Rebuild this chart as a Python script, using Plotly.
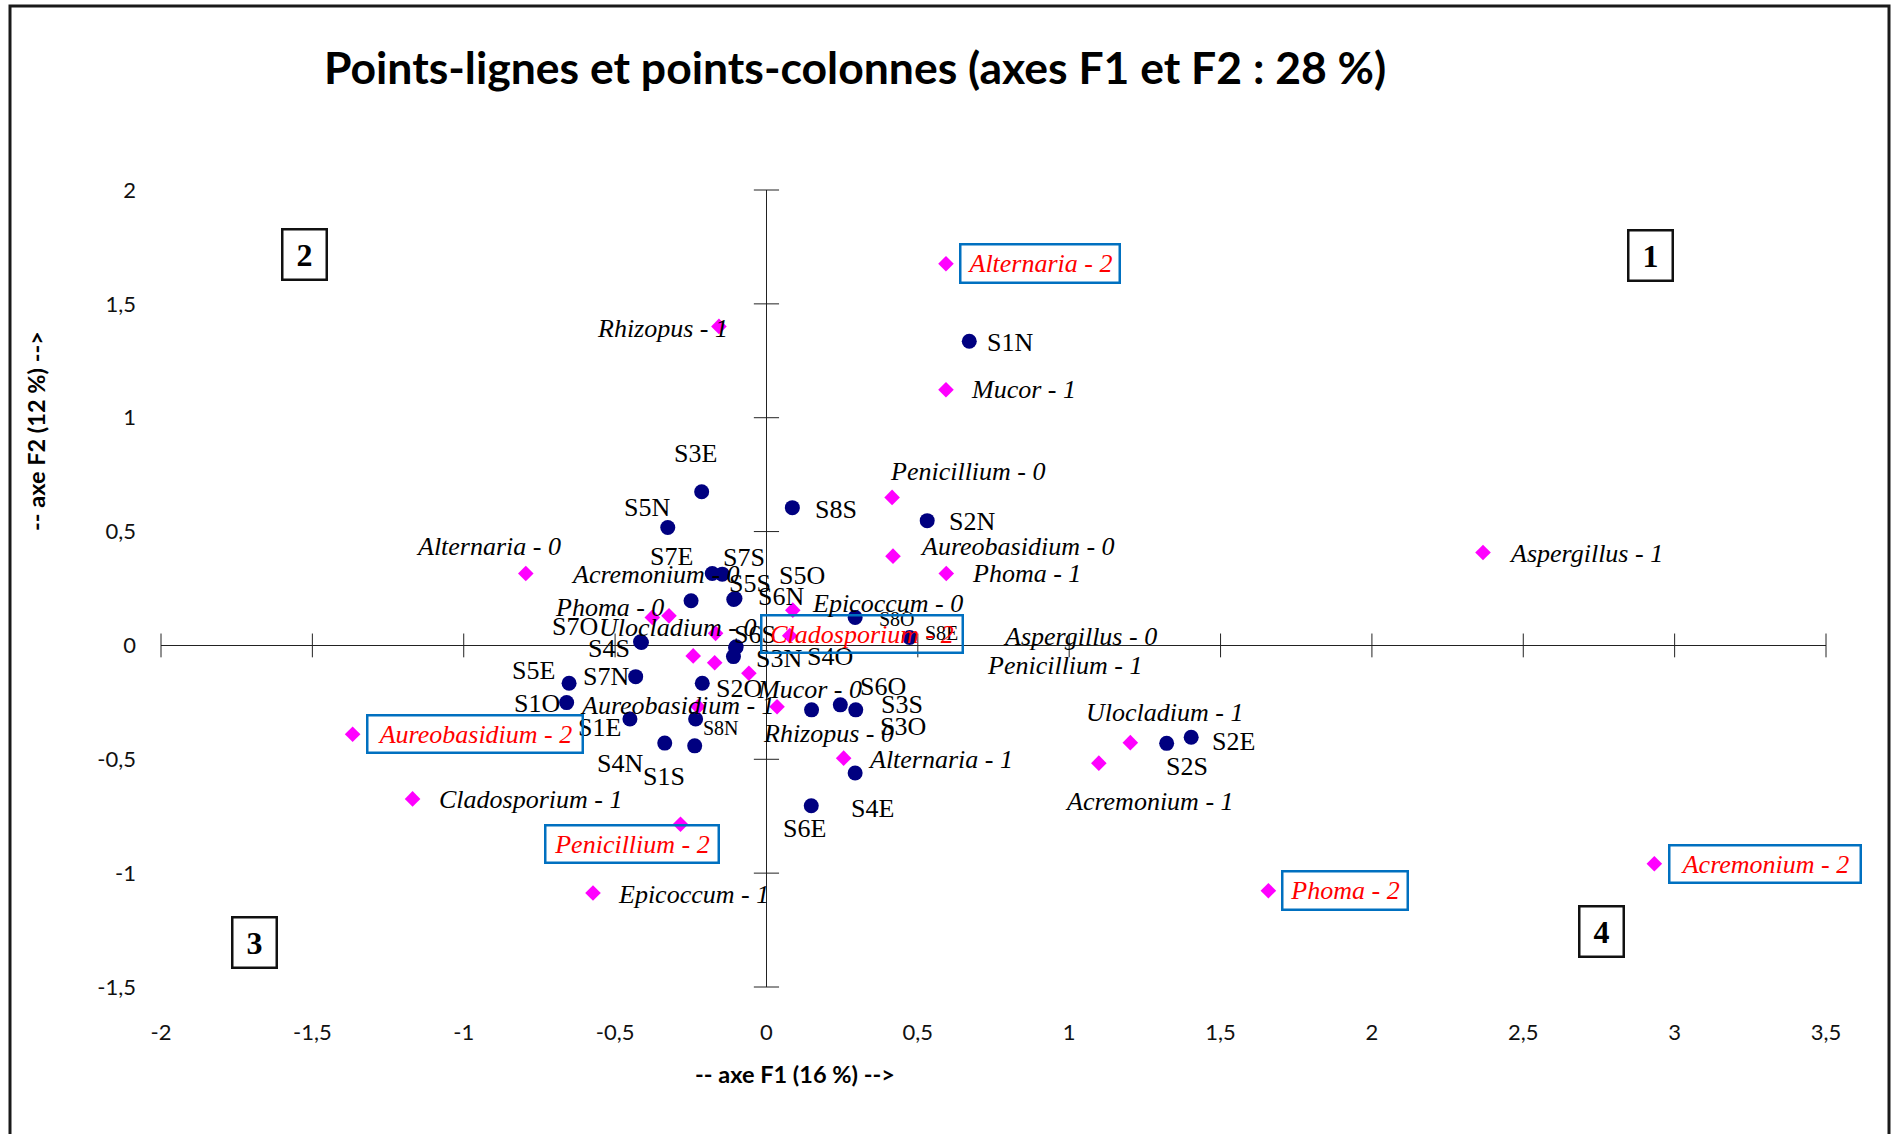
import plotly.graph_objects as go

# ---------------- data ----------------
site_names = ["S1N", "S1E", "S1S", "S1O", "S2N", "S2E", "S2S", "S2O",
              "S3N", "S3E", "S3S", "S3O", "S4N", "S4E", "S4S", "S4O",
              "S5N", "S5E", "S5S", "S5O", "S6N", "S6E", "S6S", "S6O",
              "S7N", "S7E", "S7S", "S7O", "S8N", "S8E", "S8S", "S8O"]
site_f1 = [0.670, -0.451, -0.237, -0.660, 0.531, 1.403, 1.322, -0.212,
           -0.109, -0.214, 0.295, 0.149, -0.336, 0.293, -0.413, -0.102,
           -0.326, -0.652, -0.249, -0.104, -0.108, 0.148, -0.100, 0.244,
           -0.432, -0.179, -0.146, -0.416, -0.234, 0.473, 0.0855, 0.293]
site_f2 = [1.336, -0.323, -0.441, -0.251, 0.548, -0.403, -0.430, -0.166,
           -0.049, 0.675, -0.283, -0.283, -0.429, -0.560, 0.013, -0.010,
           0.518, -0.166, 0.196, 0.206, 0.202, -0.704, -0.006, -0.261,
           -0.137, 0.316, 0.313, 0.016, -0.323, 0.035, 0.605, 0.123]

fungi_names = ["Alternaria - 0", "Alternaria - 1", "Alternaria - 2",
               "Acremonium - 0", "Acremonium - 1", "Acremonium - 2",
               "Aureobasidium - 0", "Aureobasidium - 1", "Aureobasidium - 2",
               "Aspergillus - 0", "Aspergillus - 1",
               "Cladosporium - 1", "Cladosporium - 2",
               "Epicoccum - 0", "Epicoccum - 1",
               "Mucor - 0", "Mucor - 1",
               "Penicillium - 0", "Penicillium - 1", "Penicillium - 2",
               "Phoma - 0", "Phoma - 1", "Phoma - 2",
               "Rhizopus - 0", "Rhizopus - 1",
               "Ulocladium - 0", "Ulocladium - 1"]
fungi_f1 = [-0.795, 0.255, 0.593,
            -0.322, 1.098, 2.933,
            0.418, -0.226, -1.367,
            -0.242, 2.367,
            -1.169, 0.077,
            0.087, -0.573,
            -0.058, 0.593,
            0.415, -0.171, -0.284,
            -0.377, 0.594, 1.658,
            0.035, -0.157,
            -0.168, 1.202]
fungi_f2 = [0.316, -0.495, 1.676,
            0.130, -0.517, -0.959,
            0.392, -0.269, -0.390,
            -0.046, 0.408,
            -0.674, 0.043,
            0.155, -1.087,
            -0.122, 1.123,
            0.650, -0.076, -0.785,
            0.123, 0.316, -1.077,
            -0.269, 1.401,
            0.053, -0.427]

x_ticks = [-2, -1.5, -1, -0.5, 0, 0.5, 1, 1.5, 2, 2.5, 3, 3.5]
x_tick_labels = ["-2", "-1,5", "-1", "-0,5", "0", "0,5", "1", "1,5", "2", "2,5", "3", "3,5"]
y_ticks = [-1.5, -1, -0.5, 0, 0.5, 1, 1.5, 2]
y_tick_labels = ["-1,5", "-1", "-0,5", "0", "0,5", "1", "1,5", "2"]

quadrant_labels = ["1", "2", "3", "4"]

# ---------------- layout / label placement (pixels) ----------------
W, H = 1895, 1134
ML, MR, MT, MB = 161, 69, 190, 147

def paper_x(px):
    return (px - ML) / (W - ML - MR)

def paper_y(py):
    return (H - MB - py) / (H - MT - MB)

# label offsets in pixels (dx right, dy down) relative to the marker
site_offsets = {
    "S1N": (41, 1), "S1E": (-30, 9), "S1S": (-31, 31), "S1O": (-30, 1),
    "S2N": (45, 1), "S2E": (42, 4), "S2S": (20, 23), "S2O": (37, 5),
    "S3N": (46, 2), "S3E": (-6, -38), "S3S": (46, -5), "S3O": (91, 17),
    "S4N": (-45, 20), "S4E": (17, 36), "S4S": (-32, 6), "S4O": (94, 9),
    "S5N": (-21, -20), "S5E": (-36, -13), "S5S": (59, -17), "S5O": (67, -23),
    "S6N": (47, -3), "S6E": (-7, 23), "S6S": (19, -12), "S6O": (43, -18),
    "S7N": (-30, 0), "S7E": (-41, -17), "S7S": (22, -17), "S7O": (-66, -15),
    "S8N": (25, 9), "S8E": (32, -4), "S8S": (44, 2), "S8O": (42, 2),
}
small_sites = {"S8N", "S8E", "S8O"}

fungi_offsets = {
    "Alternaria - 0": (-37, -27), "Alternaria - 1": (97, 1), "Alternaria - 2": (94, 0),
    "Acremonium - 0": (-13, -41), "Acremonium - 1": (51, 38), "Acremonium - 2": (111, 0),
    "Aureobasidium - 0": (125, -10), "Aureobasidium - 1": (-21, -1), "Aureobasidium - 2": (122, 0),
    "Aspergillus - 0": (387, -19), "Aspergillus - 1": (103, 1),
    "Cladosporium - 1": (118, 1), "Cladosporium - 2": (72, -2),
    "Epicoccum - 0": (95, -7), "Epicoccum - 1": (101, 2),
    "Mucor - 0": (61, 16), "Mucor - 1": (78, 0),
    "Penicillium - 0": (76, -26), "Penicillium - 1": (350, 3), "Penicillium - 2": (-48, 20),
    "Phoma - 0": (-43, -10), "Phoma - 1": (80, 0), "Phoma - 2": (77, 0),
    "Rhizopus - 0": (51, 27), "Rhizopus - 1": (-56, 2),
    "Ulocladium - 0": (-38, -6), "Ulocladium - 1": (34, -30),
}
# boxed (highlighted) label box sizes (width, height) in px
boxed_sizes = {
    "Alternaria - 2": (157, 36), "Cladosporium - 2": (199, 35),
    "Aureobasidium - 2": (213, 35), "Penicillium - 2": (171, 35),
    "Phoma - 2": (123, 36), "Acremonium - 2": (189, 35),
}
quadrant_pos = {"1": (1650, 255), "2": (304, 254), "3": (254, 942), "4": (1601, 931)}

SERIF = "Liberation Serif, Times New Roman, serif"
SANS = "Lato, Calibri, sans-serif"

fig = go.Figure()

# crossing tick marks on the zero axes
fig.add_trace(go.Scatter(
    x=x_ticks, y=[0] * len(x_ticks), mode="markers", hoverinfo="skip",
    marker=dict(symbol="line-ns", size=17, line=dict(color="#222", width=1)),
    cliponaxis=False, showlegend=False))
fig.add_trace(go.Scatter(
    x=[0] * len(y_ticks), y=y_ticks, mode="markers", hoverinfo="skip",
    marker=dict(symbol="line-ew", size=18, line=dict(color="#222", width=1)),
    cliponaxis=False, showlegend=False))

# points
fig.add_trace(go.Scatter(
    x=site_f1, y=site_f2, mode="markers", hoverinfo="skip", showlegend=False,
    marker=dict(symbol="circle", size=15, color="#000080"), cliponaxis=False))
fig.add_trace(go.Scatter(
    x=fungi_f1, y=fungi_f2, mode="markers", hoverinfo="skip", showlegend=False,
    marker=dict(symbol="diamond", size=12, color="#FF00FF"), cliponaxis=False))

annotations = []
for name, fx, fy in zip(site_names, site_f1, site_f2):
    dx, dy = site_offsets[name]
    annotations.append(dict(
        x=fx, y=fy, xref="x", yref="y", text=name, showarrow=False,
        xanchor="center", yanchor="middle", xshift=dx, yshift=-dy,
        font=dict(family=SERIF, size=20 if name in small_sites else 26, color="black")))

for name, fx, fy in zip(fungi_names, fungi_f1, fungi_f2):
    dx, dy = fungi_offsets[name]
    if name.endswith("- 2"):
        bw, bh = boxed_sizes[name]
        annotations.append(dict(
            x=fx, y=fy, xref="x", yref="y", text="<i>" + name + "</i>", showarrow=False,
            xanchor="center", yanchor="middle", xshift=dx, yshift=-dy,
            width=bw, height=bh, borderpad=0, borderwidth=2.5, bordercolor="#0070C0",
            align="center", valign="middle",
            font=dict(family=SERIF, size=26, color="#FF0000")))
    else:
        annotations.append(dict(
            x=fx, y=fy, xref="x", yref="y", text="<i>" + name + "</i>", showarrow=False,
            xanchor="center", yanchor="middle", xshift=dx, yshift=-dy,
            font=dict(family=SERIF, size=26, color="black")))

for q in quadrant_labels:
    px, py = quadrant_pos[q]
    annotations.append(dict(
        x=paper_x(px), y=paper_y(py), xref="paper", yref="paper", text="<b>" + q + "</b>",
        showarrow=False, xanchor="center", yanchor="middle", width=42, height=48,
        borderpad=0, borderwidth=2.5, bordercolor="#111", align="center", valign="middle",
        font=dict(family=SERIF, size=32, color="black")))

# axis titles
annotations.append(dict(
    x=paper_x(795), y=paper_y(1074), xref="paper", yref="paper",
    text="<b>-- axe F1 (16 %) --></b>", showarrow=False, xanchor="center", yanchor="middle",
    font=dict(family=SANS, size=23.5, color="black")))
annotations.append(dict(
    x=paper_x(36), y=paper_y(431), xref="paper", yref="paper",
    text="<b>-- axe F2 (12 %) --></b>", showarrow=False, xanchor="center", yanchor="middle",
    textangle=-90, font=dict(family=SANS, size=23.5, color="black")))
# title
annotations.append(dict(
    x=paper_x(855), y=paper_y(66), xref="paper", yref="paper",
    text="<b>Points-lignes et points-colonnes (axes F1 et F2 : 28 %)</b>", showarrow=False,
    xanchor="center", yanchor="middle", font=dict(family=SANS, size=44.5, color="black")))

fig.update_layout(
    width=W, height=H, autosize=False,
    margin=dict(l=ML, r=MR, t=MT, b=MB, pad=0),
    paper_bgcolor="white", plot_bgcolor="white",
    annotations=annotations,
    shapes=[dict(type="rect", xref="paper", yref="paper",
                 x0=paper_x(10), x1=paper_x(1889), y0=paper_y(1145), y1=paper_y(6),
                 line=dict(color="#1a1a1a", width=3), fillcolor="rgba(0,0,0,0)", layer="above")],
    xaxis=dict(range=[-2, 3.5], showgrid=False, zeroline=True, zerolinecolor="#222",
               zerolinewidth=1, showline=False, ticks="", tickmode="array",
               tickvals=x_ticks, ticktext=x_tick_labels, ticklabelstandoff=30,
               tickfont=dict(family=SANS, size=22, color="#111")),
    yaxis=dict(range=[-1.5, 2], showgrid=False, zeroline=True, zerolinecolor="#222",
               zerolinewidth=1, showline=False, ticks="", tickmode="array",
               tickvals=y_ticks, ticktext=y_tick_labels, ticklabelstandoff=24,
               tickfont=dict(family=SANS, size=22, color="#111")),
)

fig.write_html("out.html", include_plotlyjs=True, config={"displayModeBar": False},
               post_script="document.body.style.margin='0';document.body.style.overflow='hidden';")
